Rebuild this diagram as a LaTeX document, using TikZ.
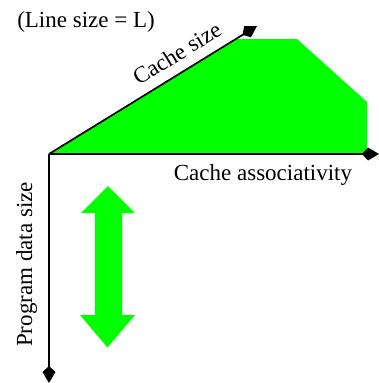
\documentclass[tikz,border=0pt]{standalone}
\usepackage{fontspec}
\setmainfont{Liberation Serif}
\usetikzlibrary{arrows.meta}
\definecolor{brightgreen}{RGB}{0,255,0}
\begin{document}
\begin{tikzpicture}[x=1pt,y=-1pt,
  axis/.style={line width=1.7pt,-{Kite[length=17pt,width=13pt,inset=6pt]}},
  lbl/.style={font=\fontsize{23}{27}\selectfont,inner sep=0pt},
  fillgreen/.style={fill=brightgreen,draw=none}]
\useasboundingbox (0,0) rectangle (379,383);
\coordinate (O) at (49,154);
\coordinate (D) at (257,26);
\coordinate (H) at (379,154);
\coordinate (V) at (49,383);
% green region
\fill[brightgreen] (O) -- (237,39) -- (297,39) -- (367,102) -- (367,154) -- cycle;
% green double arrow
\fill[brightgreen] (108,186) -- (135,213) -- (122,213) -- (122,315) -- (135,315)
  -- (107.5,347.5) -- (80,315) -- (95,315) -- (95,213) -- (81,213) -- cycle;
% axes
\draw[axis] (O) -- (D);
\draw[axis] (O) -- (H);
\draw[axis] (O) -- (V);
% labels
\node[lbl,anchor=base] (ls) at (86,27) {(Line size = L)};
\node[lbl,anchor=base,rotate=31.6] (cs) at (181,60) {Cache size};
\node[lbl,anchor=base] (ca) at (263,180) {Cache associativity};
\node[lbl,anchor=base,rotate=90] (pd) at (32,264.5) {Program data size};
\end{tikzpicture}
\end{document}
